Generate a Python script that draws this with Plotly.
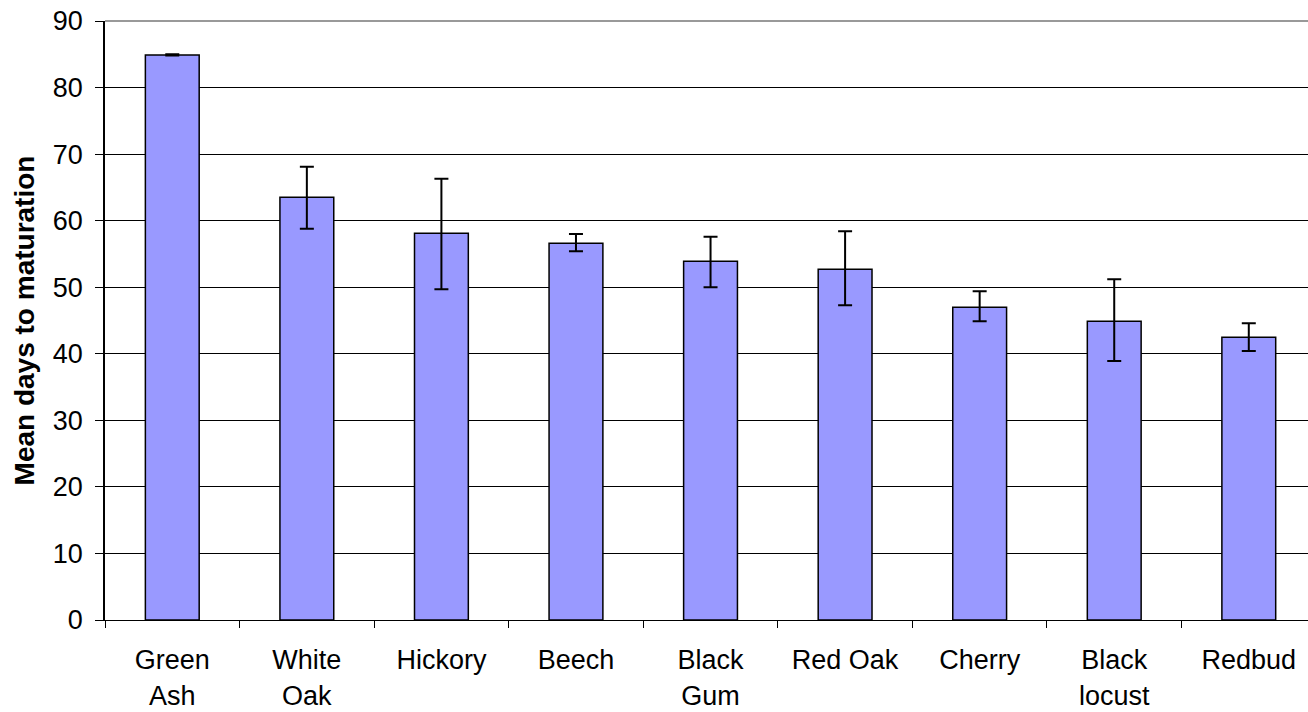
import plotly.graph_objects as go

categories = ["Green<br>Ash", "White<br>Oak", "Hickory", "Beech", "Black<br>Gum",
              "Red Oak", "Cherry", "Black<br>locust", "Redbud"]
means = [84.9, 63.5, 58.1, 56.6, 53.9, 52.7, 47.0, 44.9, 42.5]
err_plus = [0.1, 4.6, 8.2, 1.4, 3.7, 5.7, 2.4, 6.3, 2.1]
err_minus = [0.1, 4.7, 8.4, 1.2, 3.9, 5.4, 2.1, 6.0, 2.1]
y_ticks = [0, 10, 20, 30, 40, 50, 60, 70, 80, 90]

fig = go.Figure()
fig.add_trace(go.Bar(
    x=categories, y=means,
    marker=dict(color="#9999FF", line=dict(color="black", width=1.5)),
    error_y=dict(type="data", array=err_plus, arrayminus=err_minus,
                 symmetric=False, color="black", thickness=2, width=7),
    width=0.4,
))

fig.update_layout(
    width=1308, height=712,
    margin=dict(l=105, r=0, t=21, b=92),
    paper_bgcolor="white", plot_bgcolor="white",
    showlegend=False,
    font=dict(family="Liberation Sans, Arial, sans-serif", size=27, color="black"),
    xaxis=dict(range=[-0.5, 8.44], showline=True, linecolor="black", linewidth=1,
               ticks="outside", ticklen=7, tickcolor="black", tickson="boundaries",
               tickfont=dict(size=27), showgrid=False, fixedrange=True,
               ticklabelstandoff=16, ticklabeloverflow="allow"),
    yaxis=dict(range=[0, 90], tickvals=y_ticks, showline=True, linecolor="black",
               linewidth=1.5, ticks="outside", ticklen=8, tickcolor="black",
               showgrid=True, gridcolor="black", gridwidth=1, zeroline=False,
               tickfont=dict(size=27), ticklabelstandoff=7, ticklabeloverflow="allow",
               title=dict(text="<b>Mean days to maturation</b>", font=dict(size=28),
                          standoff=10)),
    shapes=[dict(type="line", xref="paper", yref="paper", x0=0, x1=1, y0=1, y1=1,
                 line=dict(color="#999999", width=2))],
)

fig.write_html("out.html", config={"displayModeBar": False},
               post_script="document.body.style.margin='0';")
